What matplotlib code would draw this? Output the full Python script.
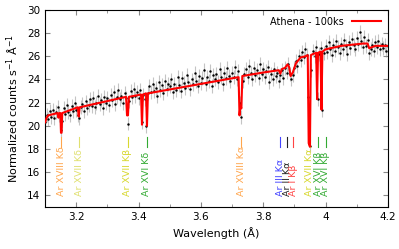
import numpy as np
import matplotlib
matplotlib.use("Agg")
import matplotlib.pyplot as plt
from matplotlib.ticker import MultipleLocator

# binned spectrum (5 mA bins from 3.100 to 4.200 A)
wave = np.round(np.arange(3.100, 4.2001, 0.005), 3)
counts = [
    20.3, 20.9, 20.6, 21.3, 20.8, 21.4, 20.7, 21.2, 21.6, 20.9,
    19.6, 20.4, 21.5, 21.0, 21.8, 21.2, 20.9, 21.7, 21.3, 22.0,
    21.4, 20.9, 20.7, 21.6, 21.9, 21.3, 22.1, 21.5, 21.8, 22.3,
    21.7, 22.4, 21.6, 22.0, 22.6, 21.9, 22.2, 21.5, 22.5, 22.0,
    22.4, 21.8, 22.7, 22.2, 22.9, 21.9, 22.5, 23.1, 22.3, 22.6,
    22.0, 22.8, 22.4, 20.2, 22.1, 23.0, 22.5, 23.2, 22.6, 22.9,
    22.4, 23.1, 20.3, 22.7, 22.3, 20.0, 22.8, 23.4, 22.9, 23.6,
    23.0, 23.3, 22.6, 23.8, 23.1, 23.5, 22.8, 23.9, 23.2, 23.6,
    23.4, 24.0, 22.9, 23.6, 23.1, 24.2, 23.5, 23.0, 24.1, 23.7,
    23.3, 24.4, 23.8, 23.2, 24.0, 23.6, 24.6, 23.9, 23.4, 24.3,
    23.7, 24.1, 24.8, 23.6, 24.2, 23.9, 24.7, 23.4, 24.4, 24.0,
    24.5, 23.8, 24.9, 24.2, 23.6, 24.6, 24.1, 25.0, 24.3, 23.9,
    24.6, 24.2, 25.1, 24.0, 24.7, 22.0, 20.8, 23.9, 24.5, 24.9,
    24.2, 25.2, 24.6, 24.0, 25.0, 24.4, 24.8, 24.1, 25.3, 24.5,
    24.9, 24.2, 24.7, 25.1, 23.8, 24.5, 24.0, 24.9, 24.3, 24.6,
    23.9, 24.4, 24.8, 24.1, 25.0, 24.6, 25.3, 24.5, 24.0, 24.4,
    25.0, 25.6, 25.2, 26.0, 25.7, 26.4, 25.9, 26.6, 26.1, 22.5,
    18.3, 24.8, 26.5, 26.0, 26.8, 22.3, 26.2, 26.7, 21.4, 26.3,
    26.9, 26.4, 27.2, 26.6, 26.1, 27.0, 26.5, 27.3, 26.8, 26.3,
    27.1, 26.6, 27.4, 26.9, 26.2, 27.2, 26.7, 27.5, 27.0, 26.6,
    27.6, 27.1, 28.1, 27.3, 26.8, 27.7, 26.9, 27.4, 26.3, 26.6,
    27.0, 26.5, 27.2, 26.8, 27.3, 26.6, 27.1, 26.7, 27.0, 26.5,
    26.9,
]
count_err = 0.6

# model curve
model_wave = [3.100, 3.105, 3.110, 3.140, 3.143, 3.146, 3.149, 3.151, 3.153, 3.155,
              3.205, 3.208, 3.211, 3.360, 3.363, 3.366, 3.369,
              3.408, 3.411, 3.414, 3.424, 3.427, 3.430,
              3.721, 3.724, 3.727, 3.730, 3.733,
              3.800, 3.850, 3.855, 3.860, 3.870, 3.878, 3.883, 3.888, 3.895, 3.905,
              3.920, 3.935, 3.943, 3.946, 3.950, 3.953, 3.960, 3.970, 3.973, 3.976,
              3.984, 3.987, 3.990, 4.000, 4.050, 4.120, 4.135, 4.140, 4.150, 4.160, 4.200]
model_flux = [20.3, 20.7, 20.9, 21.1, 20.7, 21.1, 21.1, 19.4, 19.4, 21.1,
              21.6, 20.8, 21.6, 22.5, 20.9, 20.9, 22.5,
              22.7, 20.1, 22.7, 22.8, 20.0, 22.8,
              24.2, 20.9, 21.7, 21.5, 24.3,
              24.6, 24.8, 24.5, 24.9, 25.0, 25.3, 25.1, 24.3, 24.6, 25.4,
              25.9, 26.0, 26.1, 18.5, 18.2, 26.1, 26.2, 26.3, 22.3, 26.3,
              26.4, 21.4, 26.4, 26.6, 26.9, 27.1, 27.1, 26.7, 26.8, 26.9, 26.9]

# line identifications
line_pos = [3.152, 3.210, 3.365, 3.426, 3.730, 3.855, 3.877, 3.897, 3.949, 3.977, 4.000]
line_names = ["Ar XVIII Kδ", "Ar XVII Kδ", "Ar XVII Kβ", "Ar XVI Kδ", "Ar XVIII Kα",
              "Ar III Kα", "Ar II Kα", "Ar I Kβ", "Ar XVII Kα", "Ar XVI Kβ", "Ar XVI Kβ"]
line_colors = ["#FFA64D", "#E0E070", "#D8D830", "#33AA33", "#FFA64D",
               "#4444FF", "#222222", "#FF4444", "#D8D830", "#33AA33", "#33AA33"]

fig = plt.figure(figsize=(3.99, 2.49), dpi=100)
ax = fig.add_axes([0.113, 0.169, 0.859, 0.791])

ax.errorbar(wave, counts, yerr=count_err, fmt="none", ecolor="#C4C4C4",
            elinewidth=0.8, zorder=1)
ax.plot(wave, counts, ".", color="black", markersize=1.5, zorder=2)
ax.plot(model_wave, model_flux, "-", color="red", linewidth=1.5,
        label="Athena - 100ks", zorder=3)

for x, name, c in zip(line_pos, line_names, line_colors):
    ax.plot([x, x], [18.2, 19.0], "-", color=c, linewidth=0.8, zorder=2)
    ax.text(x, 13.95, name, rotation=90, ha="center", va="bottom",
            fontsize=6.8, color=c)

ax.set_xlim(3.1, 4.2)
ax.set_ylim(13, 30)
ax.xaxis.set_minor_locator(MultipleLocator(0.1))
ax.set_xticks([3.2, 3.4, 3.6, 3.8, 4.0, 4.2])
ax.set_xticklabels(["3.2", "3.4", "3.6", "3.8", "4", "4.2"])
ax.set_yticks([14, 16, 18, 20, 22, 24, 26, 28, 30])
ax.tick_params(which="both", direction="in", top=True, right=True,
               labelsize=7.5, color="#888888")
ax.tick_params(which="major", length=3.5)
ax.tick_params(which="minor", length=2)
ax.set_xlabel("Wavelength (Å)", fontsize=8)
ax.set_ylabel("Normalized counts s$^{-1}$ Å$^{-1}$", fontsize=8)

ax.legend(loc="upper right", frameon=False, fontsize=7, handlelength=3,
          markerfirst=False, borderaxespad=0.3)

fig.savefig("out.png", dpi=100)
